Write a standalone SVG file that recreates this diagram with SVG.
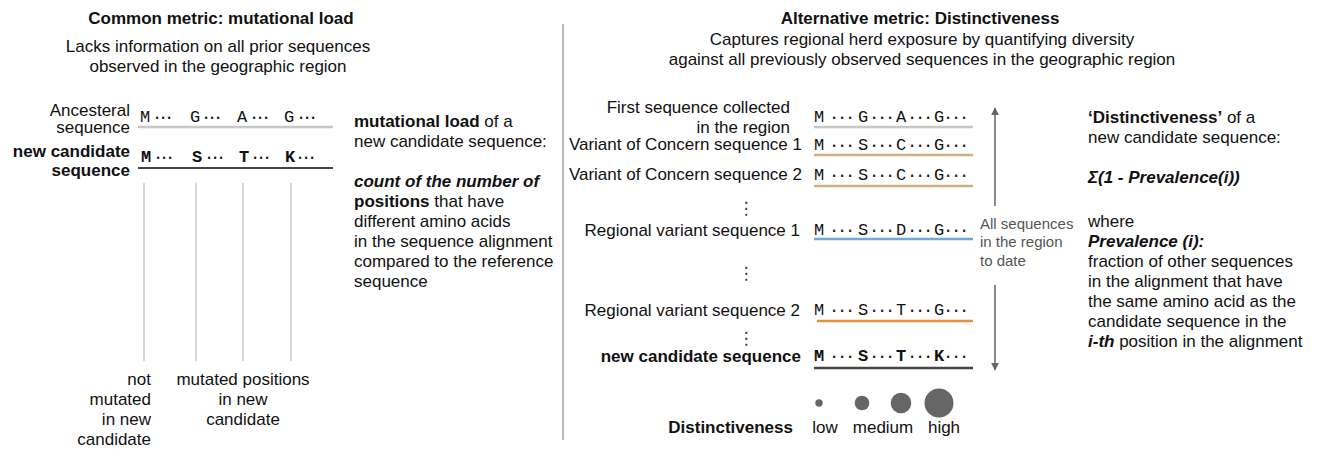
<svg xmlns="http://www.w3.org/2000/svg" width="1320" height="449" viewBox="0 0 1320 449">
<style>
text{font-family:"Liberation Sans","DejaVu Sans",Arial,sans-serif;font-size:17px;fill:#111}
.b{font-weight:bold}
.bi{font-weight:bold;font-style:italic}
.mid{text-anchor:middle}
.end{text-anchor:end}
.seq{font-family:"Liberation Mono","DejaVu Sans Mono",monospace;font-size:17px;text-anchor:middle}
.seqb{font-family:"Liberation Mono","DejaVu Sans Mono",monospace;font-size:17px;text-anchor:middle;font-weight:bold}
.dl{font-family:"Liberation Mono","DejaVu Sans Mono",monospace;font-size:17px;letter-spacing:-4.2px}
.dr{font-family:"Liberation Mono","DejaVu Sans Mono",monospace;font-size:17px;letter-spacing:-2.2px}
.vd{font-family:"DejaVu Sans",sans-serif;font-size:17px;text-anchor:middle;fill:#333}
.small{font-size:15px;fill:#555}
.guide{stroke:#c8c8c8;stroke-width:1.5}
.arr{stroke:#666;stroke-width:1.5;fill:none}
.dot{fill:#666}
</style>
<defs>
<marker id="ah" viewBox="0 0 10 10" refX="9" refY="5" markerWidth="8" markerHeight="8" markerUnits="userSpaceOnUse" orient="auto">
<path d="M0,0 L10,5 L0,10 z" fill="#666"/>
</marker>
</defs>

<!-- divider -->
<line x1="563" y1="24" x2="563" y2="440" stroke="#888" stroke-width="1.2"/>

<!-- LEFT PANEL -->
<g id="left-header">
<text class="b mid" x="221" y="24">Common metric: mutational load</text>
<text class="mid" x="218" y="52">Lacks information on all prior sequences</text>
<text class="mid" x="218" y="72">observed in the geographic region</text>
</g>

<g id="left-ancestral">
<text class="end" x="130" y="116">Ancesteral</text>
<text class="end" x="130" y="133">sequence</text>
<text class="seq" y="122"><tspan x="145">M</tspan><tspan x="195">G</tspan><tspan x="242">A</tspan><tspan x="289">G</tspan></text>
<text class="dl" y="122"><tspan x="151.9">···</tspan><tspan x="200.9">···</tspan><tspan x="248.9">···</tspan><tspan x="295.9">···</tspan></text>
<line x1="138" y1="127" x2="333" y2="127" stroke="#c8c8c8" stroke-width="2.5"/>
</g>

<g id="left-candidate">
<text class="b end" x="130" y="157">new candidate</text>
<text class="b end" x="130" y="176">sequence</text>
<text class="seqb" y="162"><tspan x="146">M</tspan><tspan x="197">S</tspan><tspan x="244">T</tspan><tspan x="290">K</tspan></text>
<text class="dl" y="162"><tspan x="152.9">···</tspan><tspan x="203.9">···</tspan><tspan x="249.9">···</tspan><tspan x="294.9">···</tspan></text>
<line x1="138" y1="168" x2="333" y2="168" stroke="#444" stroke-width="2"/>
</g>

<g id="left-guides">
<line class="guide" x1="144" y1="183" x2="144" y2="361"/>
<line class="guide" x1="196" y1="183" x2="196" y2="361"/>
<line class="guide" x1="243" y1="183" x2="243" y2="361"/>
<line class="guide" x1="291" y1="183" x2="291" y2="361"/>
</g>

<g id="left-labels">
<text class="end" x="151" y="385">not</text>
<text class="end" x="151" y="405">mutated</text>
<text class="end" x="151" y="425">in new</text>
<text class="end" x="151" y="445">candidate</text>
<text class="mid" x="243" y="385">mutated positions</text>
<text class="mid" x="243" y="405">in new</text>
<text class="mid" x="243" y="425">candidate</text>
</g>

<g id="left-description">
<text x="354" y="127"><tspan class="b">mutational load</tspan> of a</text>
<text x="354" y="147">new candidate sequence:</text>
<text x="354" y="187" class="bi">count of the number of</text>
<text x="354" y="207"><tspan class="b">positions</tspan> that have</text>
<text x="354" y="227">different amino acids</text>
<text x="354" y="247">in the sequence alignment</text>
<text x="354" y="267">compared to the reference</text>
<text x="354" y="287">sequence</text>
</g>

<!-- RIGHT PANEL -->
<g id="right-header">
<text class="b mid" x="920" y="24">Alternative metric: Distinctiveness</text>
<text class="mid" x="922" y="45">Captures regional herd exposure by quantifying diversity</text>
<text class="mid" x="922" y="65">against all previously observed sequences in the geographic region</text>
</g>

<g id="row-first">
<text class="end" x="790" y="113">First sequence collected</text>
<text class="end" x="790" y="133">in the region</text>
<text class="seq" y="122"><tspan x="819">M</tspan><tspan x="863">G</tspan><tspan x="901">A</tspan><tspan x="939">G</tspan></text>
<text class="dr" y="122"><tspan x="828.9">···</tspan><tspan x="868.9">···</tspan><tspan x="906.9">···</tspan><tspan x="942.9">···</tspan></text>
<line x1="814" y1="127" x2="973" y2="127" stroke="#c8c8c8" stroke-width="2.5"/>
</g>

<g id="row-voc1">
<text class="end" x="802" y="150">Variant of Concern sequence 1</text>
<text class="seq" y="150"><tspan x="819">M</tspan><tspan x="863">S</tspan><tspan x="901">C</tspan><tspan x="939">G</tspan></text>
<text class="dr" y="150"><tspan x="828.9">···</tspan><tspan x="868.9">···</tspan><tspan x="906.9">···</tspan><tspan x="942.9">···</tspan></text>
<line x1="814" y1="155" x2="973" y2="155" stroke="#c9b27c" stroke-width="2.5"/>
</g>

<g id="row-voc2">
<text class="end" x="802" y="180">Variant of Concern sequence 2</text>
<text class="seq" y="180"><tspan x="819">M</tspan><tspan x="863">S</tspan><tspan x="901">C</tspan><tspan x="939">G</tspan></text>
<text class="dr" y="180"><tspan x="828.9">···</tspan><tspan x="868.9">···</tspan><tspan x="906.9">···</tspan><tspan x="942.9">···</tspan></text>
<line x1="814" y1="186" x2="973" y2="186" stroke="#c9b27c" stroke-width="2.5"/>
</g>

<g id="vdots">
<text class="vd" x="746" y="214">⋮</text>
<text class="vd" x="746" y="279">⋮</text>
<text class="vd" x="746" y="344">⋮</text>
</g>

<g id="row-reg1">
<text class="end" x="800" y="236">Regional variant sequence 1</text>
<text class="seq" y="235"><tspan x="819">M</tspan><tspan x="863">S</tspan><tspan x="901">D</tspan><tspan x="939">G</tspan></text>
<text class="dr" y="235"><tspan x="828.9">···</tspan><tspan x="868.9">···</tspan><tspan x="906.9">···</tspan><tspan x="942.9">···</tspan></text>
<line x1="814" y1="239" x2="973" y2="239" stroke="#6fa8dc" stroke-width="2.5"/>
</g>

<g id="row-reg2">
<text class="end" x="800" y="316">Regional variant sequence 2</text>
<text class="seq" y="315"><tspan x="819">M</tspan><tspan x="863">S</tspan><tspan x="901">T</tspan><tspan x="939">G</tspan></text>
<text class="dr" y="315"><tspan x="828.9">···</tspan><tspan x="868.9">···</tspan><tspan x="906.9">···</tspan><tspan x="942.9">···</tspan></text>
<line x1="817" y1="321" x2="973" y2="321" stroke="#e69138" stroke-width="2.5"/>
</g>

<g id="row-candidate">
<text class="b end" x="801" y="362">new candidate sequence</text>
<text class="seqb" y="361"><tspan x="819">M</tspan><tspan x="863">S</tspan><tspan x="901">T</tspan><tspan x="939">K</tspan></text>
<text class="dr" y="361"><tspan x="828.9">···</tspan><tspan x="868.9">···</tspan><tspan x="906.9">···</tspan><tspan x="942.9">···</tspan></text>
<line x1="814" y1="368" x2="973" y2="368" stroke="#444" stroke-width="2.5"/>
</g>

<g id="connectors">
<line class="arr" x1="995" y1="206" x2="995" y2="108" marker-end="url(#ah)"/>
<line class="arr" x1="995" y1="285" x2="995" y2="370" marker-end="url(#ah)"/>
</g>

<g id="time-label">
<text class="small" x="980" y="229">All sequences</text>
<text class="small" x="980" y="247">in the region</text>
<text class="small" x="980" y="266">to date</text>
</g>

<g id="right-description">
<text x="1088" y="123"><tspan class="b">‘Distinctiveness’</tspan> of a</text>
<text x="1088" y="143">new candidate sequence:</text>
<text x="1088" y="183" class="bi">Σ(1 - Prevalence(i))</text>
<text x="1088" y="227">where</text>
<text x="1088" y="247" class="bi">Prevalence (i):</text>
<text x="1088" y="267">fraction of other sequences</text>
<text x="1088" y="287">in the alignment that have</text>
<text x="1088" y="307">the same amino acid as the</text>
<text x="1088" y="327">candidate sequence in the</text>
<text x="1088" y="347"><tspan class="bi">i-th</tspan> position in the alignment</text>
</g>

<g id="legend">
<circle class="dot" cx="819" cy="403" r="3.7"/>
<circle class="dot" cx="862" cy="403" r="7.3"/>
<circle class="dot" cx="901" cy="403" r="10.3"/>
<circle class="dot" cx="939" cy="403" r="14.5"/>
<text class="b end" x="793" y="433">Distinctiveness</text>
<text class="mid" x="825" y="433">low</text>
<text class="mid" x="883" y="433">medium</text>
<text class="mid" x="944" y="433">high</text>
</g>
</svg>
